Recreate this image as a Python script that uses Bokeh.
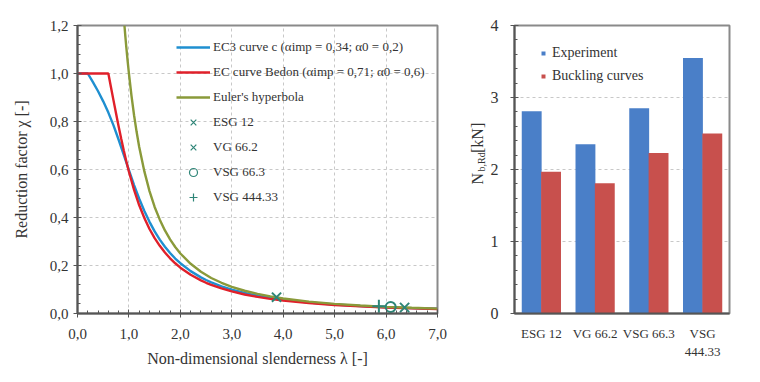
import math
from bokeh.plotting import figure
from bokeh.layouts import row
from bokeh.models import (ColumnDataSource, FactorRange, Legend, LegendItem,
                          CustomJSTickFormatter, FixedTicker)
from bokeh.core.properties import value
from bokeh.transform import dodge
from bokeh.embed import file_html
from bokeh.resources import INLINE

NAN = float("nan")

# ---------------- data: left chart ----------------
ec3_lambda = [0.0, 0.2, 0.3, 0.4, 0.5, 0.6, 0.7, 0.8, 0.9, 1.0, 1.1, 1.2, 1.3, 1.4, 1.5, 1.6, 1.7, 1.8,
              1.9, 2.0, 2.2, 2.4, 2.5, 2.6, 2.8, 3.0, 3.25, 3.5, 3.75, 4.0, 4.5, 5.0, 5.5, 6.0, 6.5, 7.0]
ec3_chi    = [1.0, 1.0, 0.964, 0.926, 0.884, 0.837, 0.784, 0.724, 0.661, 0.597, 0.535, 0.478, 0.427,
              0.382, 0.342, 0.308, 0.278, 0.252, 0.229, 0.2095, 0.1765, 0.1506, 0.1397, 0.1299, 0.1132,
              0.0994, 0.0855, 0.0743, 0.0651, 0.0576, 0.0459, 0.0375, 0.0311, 0.0263, 0.0225, 0.0195]

bedon_lambda = [0.0, 0.6, 0.65, 0.7, 0.75, 0.8, 0.85, 0.9, 0.95, 1.0, 1.1, 1.2, 1.3, 1.4, 1.5, 1.6, 1.7,
                1.8, 1.9, 2.0, 2.2, 2.4, 2.5, 2.6, 2.8, 3.0, 3.25, 3.5, 3.75, 4.0, 4.5, 5.0, 5.5, 6.0,
                6.5, 7.0]
bedon_chi    = [1.0, 1.0, 0.944, 0.888, 0.833, 0.779, 0.728, 0.679, 0.633, 0.5905, 0.515, 0.451, 0.398,
                0.352, 0.314, 0.282, 0.254, 0.230, 0.2093, 0.191, 0.1614, 0.1381, 0.128, 0.1194,
                0.1043, 0.0919, 0.0793, 0.0691, 0.0608, 0.0539, 0.0432, 0.0354, 0.0296, 0.0250,
                0.0215, 0.0186]

euler_lambda = [0.913, 0.93, 0.95, 0.975, 1.0, 1.05, 1.1, 1.15, 1.2, 1.3, 1.4, 1.5, 1.6, 1.7, 1.8, 1.9,
                2.0, 2.2, 2.4, 2.6, 2.8, 3.0, 3.25, 3.5, 3.75, 4.0, 4.5, 5.0, 5.5, 6.0, 6.5, 7.0]
euler_chi    = [1.2, 1.156, 1.108, 1.052, 1.0, 0.907, 0.826, 0.756, 0.694, 0.592, 0.510, 0.444, 0.391,
                0.346, 0.309, 0.277, 0.25, 0.207, 0.174, 0.148, 0.128, 0.111, 0.0947, 0.0816, 0.0711,
                0.0625, 0.0494, 0.04, 0.0331, 0.0278, 0.0237, 0.0204]

specimens = ["ESG 12", "VG 66.2", "VSG 66.3", "VSG 444.33"]
spec_lambda = [3.87, 6.36, 6.09, 5.86]
spec_chi = [0.068, 0.025, 0.027, 0.030]
spec_marker = ["x", "x", "circle", "cross"]

x_ticks = [0, 1, 2, 3, 4, 5, 6, 7]
y_ticks = [0.0, 0.2, 0.4, 0.6, 0.8, 1.0, 1.2]

# ---------------- data: right chart ----------------
bar_cats = ["ESG 12", "VG 66.2", "VSG 66.3", "VSG\n444.33"]
experiment = [2.81, 2.35, 2.85, 3.55]
buckling = [1.97, 1.81, 2.23, 2.50]
bar_y_ticks = [0, 1, 2, 3, 4]

# y-axis title pieces of the bar chart: N, subscript b,Rd, [kN]
ytitle_parts = ["N", "b,Rd", "[kN]"]

SERIF = "Liberation Serif"
TXT = "#333333"
TEAL = "#2e8577"
H = 375

# ================= left figure =================
p1 = figure(width=460, height=H, x_range=(0, 7), y_range=(0, 1.2),
            output_backend="svg", toolbar_location=None,
            min_border_left=77, min_border_right=23, min_border_top=25, min_border_bottom=H - 313)
p1.outline_line_color = "#8a8a8a"
p1.outline_line_width = 2

l_ec3 = p1.line(ec3_lambda, ec3_chi, line_color="#1f8fd0", line_width=2.4)
l_bed = p1.line(bedon_lambda, bedon_chi, line_color="#e0202a", line_width=2.4)
l_eul = p1.line(euler_lambda, euler_chi, line_color="#8a9a3a", line_width=2.4)

leg_renderers = []
for i, name in enumerate(specimens):
    src = ColumnDataSource(dict(x=[spec_lambda[i]], y=[spec_chi[i]]))
    p1.scatter("x", "y", source=src, marker=spec_marker[i],
               size=13 if spec_marker[i] != "circle" else 10,
               line_color=TEAL, fill_color=None, line_width=2)
    proxy = p1.scatter(x=[NAN], y=[NAN], marker=spec_marker[i], size=7, line_color=TEAL,
                       fill_color=None, line_width=1.2)
    leg_renderers.append(proxy)

legend1 = Legend(items=[
    LegendItem(label="EC3 curve c (\u03b1imp = 0,34; \u03b10 = 0,2)", renderers=[l_ec3]),
    LegendItem(label="EC curve Bedon (\u03b1imp = 0,71; \u03b10 = 0,6)", renderers=[l_bed]),
    LegendItem(label="Euler's hyperbola", renderers=[l_eul]),
] + [LegendItem(label=n, renderers=[r]) for n, r in zip(specimens, leg_renderers)],
    location=(99, 106), glyph_width=34, glyph_height=20, label_height=20, spacing=5,
    padding=0, margin=0, label_standoff=3, border_line_color=None,
    background_fill_color="white", background_fill_alpha=0.0,
    label_text_font=SERIF, label_text_font_size="13px", label_text_color=TXT)
p1.add_layout(legend1)

fmt = CustomJSTickFormatter(code="return tick.toFixed(1).replace('.', ',');")
for ax in (p1.xaxis[0], p1.yaxis[0]):
    ax.formatter = fmt
    ax.major_label_text_font = SERIF
    ax.major_label_text_font_size = "15px"
    ax.major_label_text_color = TXT
    ax.axis_label_text_font = SERIF
    ax.axis_label_text_font_size = "16px"
    ax.axis_label_text_font_style = "normal"
    ax.axis_label_text_color = TXT
    ax.axis_line_color = "#555555"
    ax.axis_line_width = 2
    ax.major_tick_line_color = "#555555"
    ax.minor_tick_line_color = "#555555"
    ax.major_tick_in = 4
    ax.major_tick_out = 4
    ax.minor_tick_in = 3
    ax.minor_tick_out = 0
p1.xaxis.ticker = FixedTicker(ticks=x_ticks, minor_ticks=[i * 0.2 for i in range(36)])
p1.yaxis.ticker = FixedTicker(ticks=y_ticks, minor_ticks=[i * 0.04 for i in range(31)])
p1.xaxis.axis_label = "Non-dimensional slenderness \u03bb [-]"
p1.yaxis.axis_label = "Reduction factor \u03c7 [-]"
p1.xaxis.major_label_standoff = 11
p1.yaxis.major_label_standoff = 5
p1.yaxis.axis_label_standoff = 17
p1.xaxis.axis_label_standoff = 8
p1.grid.grid_line_color = "#c8c8c8"
p1.grid.grid_line_dash = "3 3"
p1.grid.grid_line_width = 1

# ================= narrow figure holding the bar chart's y-axis title =================
pl = figure(width=27, height=H, x_range=(0, 27), y_range=(0, H),
            output_backend="svg", toolbar_location=None,
            min_border=0, min_border_left=0, min_border_right=0,
            min_border_top=0, min_border_bottom=0)
pl.axis.visible = False
pl.grid.visible = False
pl.outline_line_color = None
pl.text(x=[17, 21, 17], y=[H - 207, H - 190, H - 166], text=ytitle_parts, angle=math.pi / 2,
        text_align="left", text_baseline="middle", text_font=value(SERIF),
        text_font_size=["16px", "10px", "16px"], text_color=TXT)

# ================= right figure =================
p2 = figure(width=273, height=H, x_range=FactorRange(*bar_cats), y_range=(0, 4),
            output_backend="svg", toolbar_location=None,
            min_border_left=26, min_border_right=31, min_border_top=25, min_border_bottom=H - 319)
p2.outline_line_color = "#8a8a8a"
p2.outline_line_width = 2
src2 = ColumnDataSource(dict(cat=bar_cats, exp=experiment, buck=buckling))
p2.vbar(x=dodge("cat", -0.18, range=p2.x_range), top="exp", width=0.37, source=src2,
        fill_color="#4a7fc8", line_color=None)
p2.vbar(x=dodge("cat", 0.18, range=p2.x_range), top="buck", width=0.37, source=src2,
        fill_color="#c8504d", line_color=None)
p_e = p2.scatter(x=[NAN], y=[NAN], marker="square", size=7, fill_color="#4a7fc8", line_color=None)
p_b = p2.scatter(x=[NAN], y=[NAN], marker="square", size=7, fill_color="#c8504d", line_color=None)
legend2 = Legend(items=[LegendItem(label="Experiment", renderers=[p_e]),
                        LegendItem(label="Buckling curves", renderers=[p_b])],
                 location=(24, 228), glyph_width=10, glyph_height=18, label_height=18, spacing=5,
                 padding=0, margin=0, label_standoff=4, border_line_color=None,
                 background_fill_alpha=0.0,
                 label_text_font=SERIF, label_text_font_size="14px", label_text_color=TXT)
p2.add_layout(legend2)

p2.yaxis.ticker = FixedTicker(ticks=bar_y_ticks, minor_ticks=[i * 0.2 for i in range(21)])
for ax in (p2.xaxis[0], p2.yaxis[0]):
    ax.major_label_text_font = SERIF
    ax.major_label_text_color = TXT
    ax.axis_line_color = "#555555"
    ax.axis_line_width = 2
    ax.major_tick_line_color = "#555555"
    ax.minor_tick_line_color = "#555555"
p2.xaxis.major_label_text_font_size = "13px"
p2.yaxis.major_label_text_font_size = "16px"
p2.xaxis.major_tick_line_color = None
p2.yaxis.major_tick_in = 4
p2.yaxis.major_tick_out = 4
p2.yaxis.minor_tick_in = 3
p2.yaxis.minor_tick_out = 0
p2.yaxis.major_label_standoff = 12
p2.xaxis.major_label_standoff = 6
p2.xgrid.grid_line_color = None
p2.ygrid.grid_line_color = "#c8c8c8"
p2.ygrid.grid_line_dash = "3 3"

layout = row(p1, pl, p2)
open("out.html", "w").write(file_html(layout, INLINE))
